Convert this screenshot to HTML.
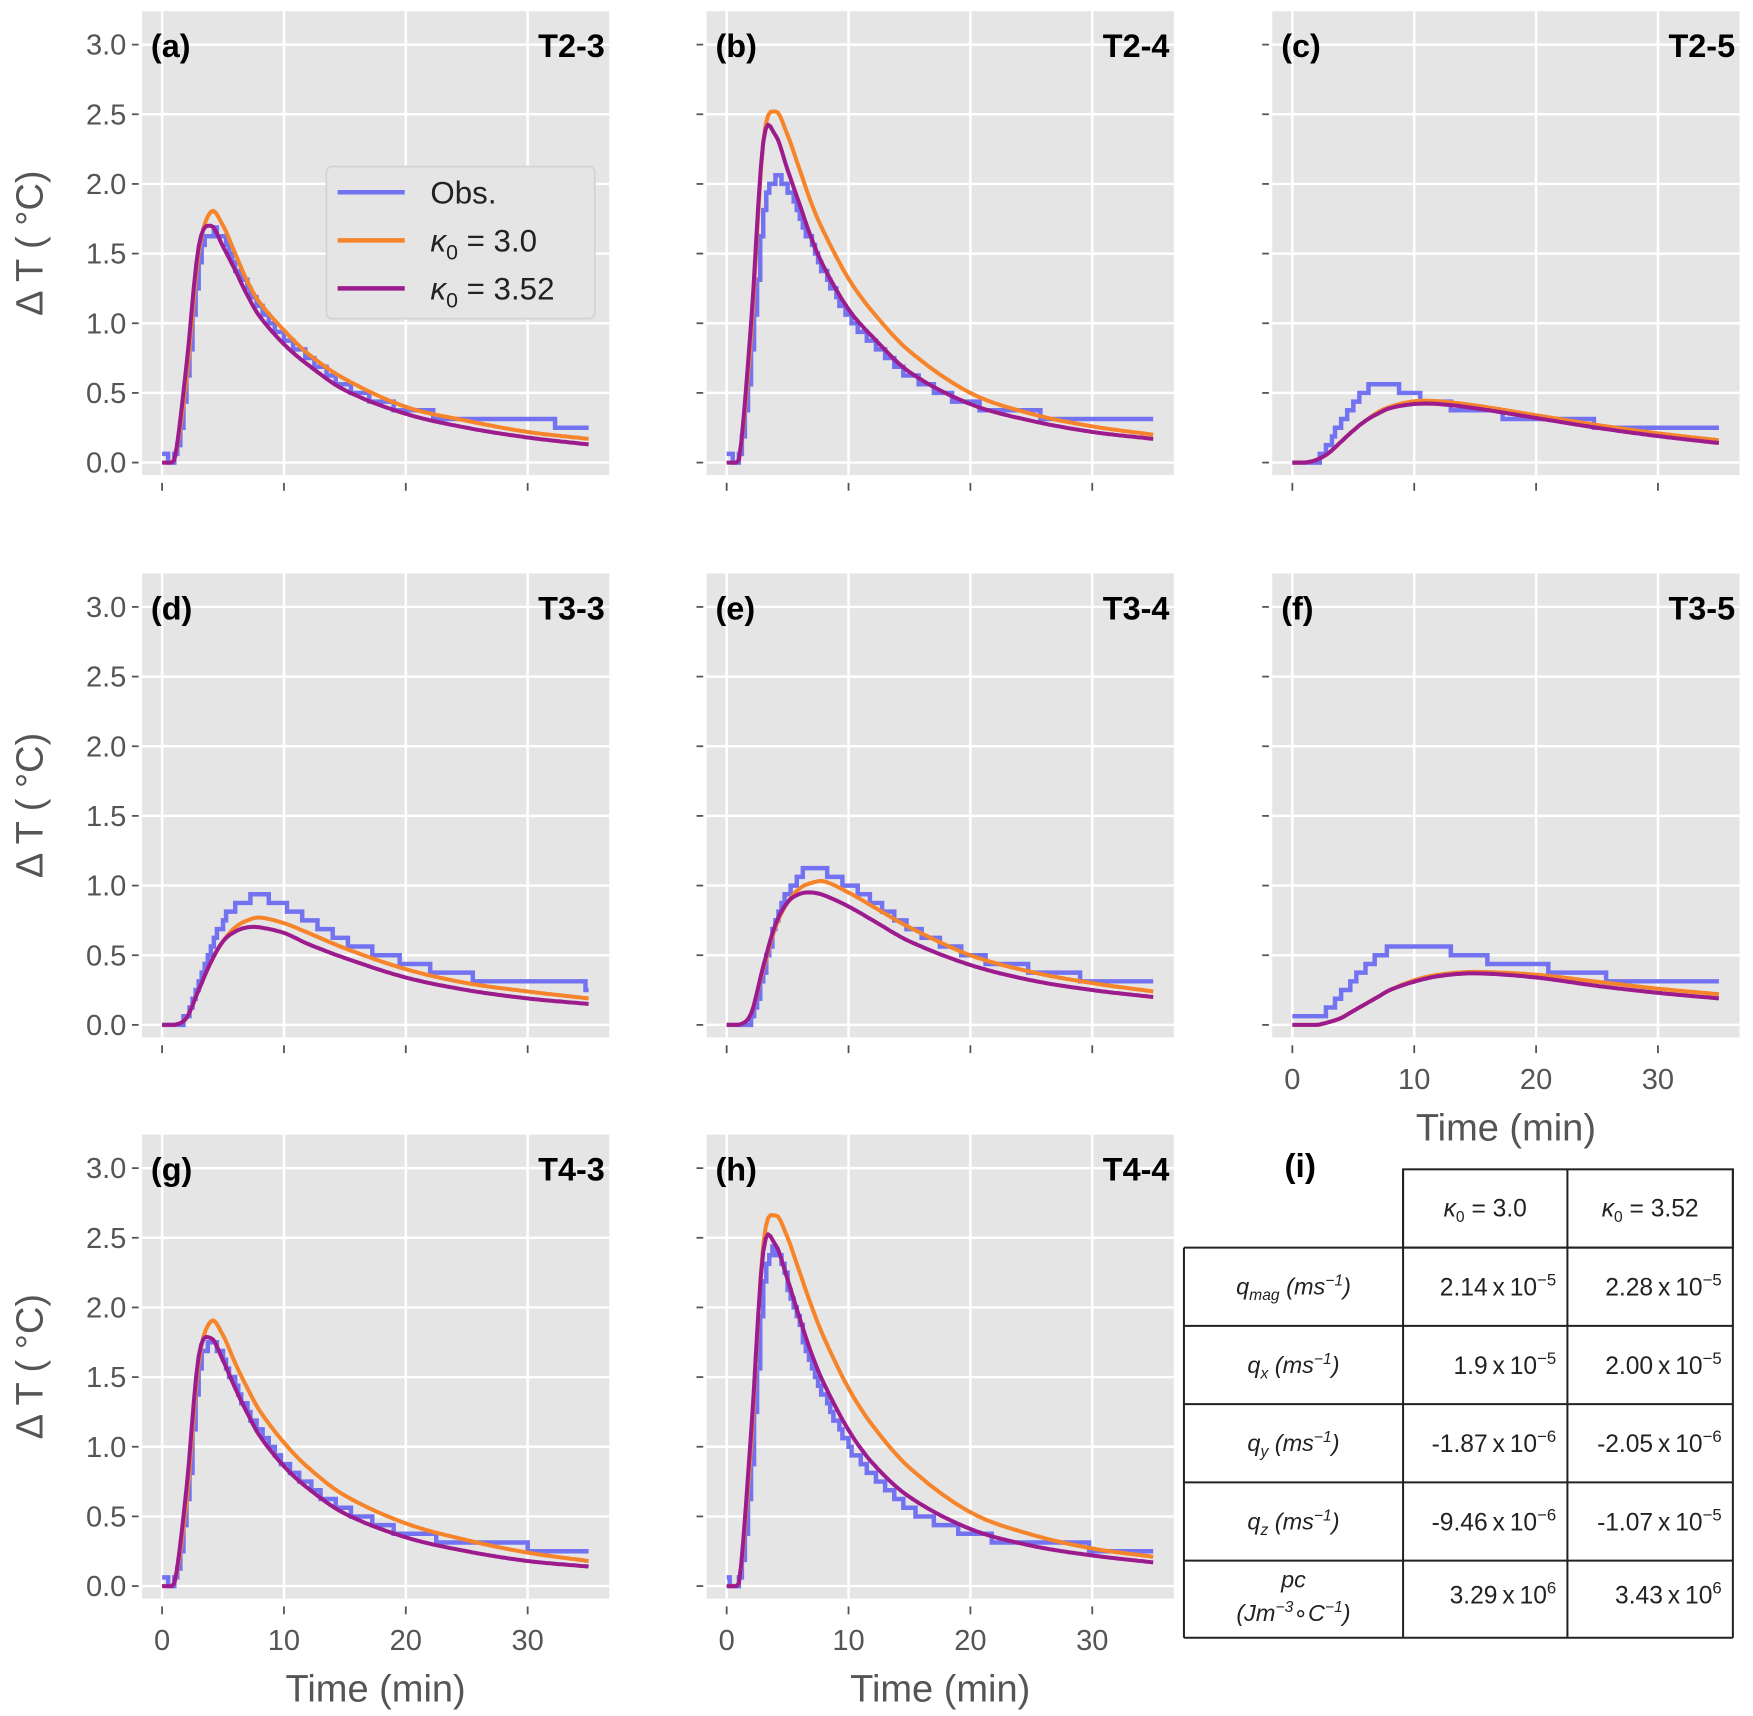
<!DOCTYPE html>
<html><head><meta charset="utf-8"><style>
html,body{margin:0;padding:0;background:#fff;}
svg{display:block;font-family:"Liberation Sans","DejaVu Sans",sans-serif;}
</style></head><body>
<svg id="fig" width="1753" height="1716" viewBox="0 0 1568 1535" preserveAspectRatio="none" xmlns="http://www.w3.org/2000/svg"></svg>
<script>
// ---- data ----
const times = [0,1,2,3,4,5,6,7,8,10,12,15,20,25,30,35];
const panelNames = ["T2-3","T2-4","T2-5","T3-3","T3-4","T3-5","T4-3","T4-4"];
const panelLetters = ["(a)","(b)","(c)","(d)","(e)","(f)","(g)","(h)"];
const orangeA = [0,0.02,0.6,1.5,1.8,1.7,1.5,1.3,1.15,0.95,0.78,0.6,0.4,0.3,0.22,0.17];
const purpleA = [0,0.02,0.7,1.55,1.7,1.55,1.38,1.2,1.05,0.85,0.7,0.52,0.35,0.25,0.18,0.13];
const obsA    = [0.05,0.05,0.6,1.45,1.65,1.6,1.4,1.25,1.1,0.9,0.75,0.55,0.38,0.32,0.3,0.25];
const orangeB = [0,0.02,0.9,2.3,2.52,2.35,2.1,1.85,1.65,1.32,1.08,0.8,0.5,0.35,0.26,0.2];
const purpleB = [0,0.02,1.0,2.3,2.35,2.1,1.85,1.6,1.4,1.1,0.9,0.65,0.42,0.3,0.22,0.17];
const obsB    = [0.05,0.05,0.8,1.8,2.05,1.95,1.75,1.55,1.35,1.05,0.85,0.62,0.42,0.35,0.32,0.3];
const orangeC = [0,0,0.02,0.07,0.15,0.23,0.3,0.36,0.4,0.44,0.44,0.41,0.34,0.27,0.21,0.16];
const purpleC = [0,0,0.02,0.07,0.15,0.23,0.3,0.35,0.39,0.42,0.42,0.39,0.32,0.25,0.19,0.14];
const obsC    = [0,0,0.02,0.15,0.3,0.42,0.52,0.55,0.55,0.48,0.42,0.38,0.3,0.28,0.26,0.25];
const orangeD = [0,0,0.05,0.25,0.45,0.6,0.7,0.75,0.77,0.73,0.66,0.55,0.4,0.3,0.24,0.19];
const purpleD = [0,0,0.05,0.25,0.45,0.6,0.67,0.7,0.7,0.66,0.58,0.48,0.34,0.25,0.19,0.15];
const obsD    = [0,0,0.07,0.3,0.55,0.75,0.85,0.9,0.92,0.85,0.75,0.6,0.45,0.35,0.3,0.28];
const orangeE = [0,0,0.08,0.4,0.7,0.88,0.98,1.02,1.03,0.95,0.85,0.7,0.5,0.38,0.3,0.24];
const purpleE = [0,0,0.08,0.42,0.72,0.88,0.94,0.95,0.93,0.85,0.75,0.6,0.43,0.32,0.25,0.2];
const obsE    = [0,0,0.05,0.4,0.75,0.95,1.08,1.12,1.1,1.0,0.88,0.7,0.5,0.4,0.33,0.3];
const orangeF = [0,0,0,0.02,0.05,0.1,0.15,0.2,0.25,0.32,0.36,0.38,0.36,0.31,0.26,0.22];
const purpleF = [0,0,0,0.02,0.05,0.1,0.15,0.2,0.25,0.31,0.35,0.37,0.34,0.28,0.23,0.19];
const obsF    = [0.05,0.05,0.05,0.12,0.22,0.32,0.42,0.5,0.54,0.55,0.55,0.48,0.42,0.35,0.32,0.3];
const orangeG = [0,0.02,0.6,1.6,1.9,1.8,1.6,1.42,1.26,1.03,0.85,0.65,0.45,0.33,0.24,0.18];
const purpleG = [0,0.02,0.7,1.65,1.78,1.62,1.42,1.24,1.08,0.86,0.7,0.52,0.35,0.25,0.18,0.14];
const obsG    = [0.05,0.05,0.6,1.55,1.75,1.62,1.42,1.25,1.1,0.88,0.72,0.55,0.38,0.32,0.28,0.25];
const orangeH = [0,0.02,1.0,2.45,2.66,2.5,2.25,2.0,1.78,1.42,1.15,0.85,0.53,0.37,0.27,0.21];
const purpleH = [0,0.02,1.1,2.4,2.45,2.2,1.92,1.66,1.45,1.12,0.88,0.64,0.41,0.29,0.22,0.17];
const obsH    = [0.05,0.05,0.9,2.2,2.4,2.15,1.85,1.58,1.35,1.0,0.8,0.55,0.38,0.3,0.28,0.25];
const yTicks = [0,0.5,1,1.5,2,2.5,3];
const yTickLabels = ["0.0","0.5","1.0","1.5","2.0","2.5","3.0"];
const xTicks = [0,10,20,30];
const xTickLabels = ["0","10","20","30"];
const orangeSeries = [orangeA,orangeB,orangeC,orangeD,orangeE,orangeF,orangeG,orangeH];
const purpleSeries = [purpleA,purpleB,purpleC,purpleD,purpleE,purpleF,purpleG,purpleH];
const obsSeries = [obsA,obsB,obsC,obsD,obsE,obsF,obsG,obsH];
const tableCols = ["3.0","3.52"];
const tableRowVals = [["2.14","-5","2.28","-5"],["1.9","-5","2.00","-5"],["-1.87","-6","-2.05","-6"],["-9.46","-6","-1.07","-5"],["3.29","6","3.43","6"]];

// ---- drawing ----
const NS="http://www.w3.org/2000/svg";
const svg=document.getElementById('fig');
function mk(tag,attrs,parent){const e=document.createElementNS(NS,tag);for(const k in attrs)e.setAttribute(k,attrs[k]);(parent||svg).appendChild(e);return e;}
const colX=[127,632,1138], rowY=[10,513,1015], W=418, H=415;
const X0=-1.65, X1=36.7, Y0=-0.09, Y1=3.24;
const ORANGE="#f5842b", PURPLE="#9c1c8e", OBS="#7373f2";

function interp(xs,ys,t){
  let i=0; while(i<xs.length-2 && t>xs[i+1]) i++;
  const p0=ys[Math.max(i-1,0)],p1=ys[i],p2=ys[i+1],p3=ys[Math.min(i+2,ys.length-1)];
  const x1=xs[i],x2=xs[i+1]; const u=(t-x1)/(x2-x1);
  const h0=xs[Math.max(i-1,0)], h3=xs[Math.min(i+2,xs.length-1)];
  const m1=(p2-p0)/((x2-h0)||1)*(x2-x1), m2=(p3-p1)/((h3-x1)||1)*(x2-x1);
  const u2=u*u,u3=u2*u;
  return (2*u3-3*u2+1)*p1+(u3-2*u2+u)*m1+(-2*u3+3*u2)*p2+(u3-u2)*m2;
}

for(let p=0;p<8;p++){
  const c=p%3, r=Math.floor(p/3);
  const L=colX[c], T=rowY[r];
  const sx=v=>L+(v-X0)/(X1-X0)*W;
  const sy=v=>T+H-(v-Y0)/(Y1-Y0)*H;
  const g=mk('g',{});
  
  
  const bg=mk('rect',{x:L,y:T,width:W,height:H,fill:'#e5e5e5'},g);
  
  
  yTicks.forEach((v,i)=>{
    mk('line',{x1:L,x2:L+W,y1:sy(v),y2:sy(v),stroke:'#fff','stroke-width':2.2},g);
    mk('line',{x1:L-9,x2:L-3,y1:sy(v),y2:sy(v),stroke:'#555','stroke-width':1.6},g);
    if(c===0){const t=mk('text',{x:L-14,y:sy(v)+9,'text-anchor':'end','font-size':26,fill:'#555'},g);t.textContent=yTickLabels[i];
      }
  });
  xTicks.forEach((v,i)=>{
    mk('line',{x1:sx(v),x2:sx(v),y1:T,y2:T+H,stroke:'#fff','stroke-width':2.2},g);
    mk('line',{x1:sx(v),x2:sx(v),y1:T+H+7,y2:T+H+14,stroke:'#555','stroke-width':1.6},g);
    if(r===2||p===5){const t=mk('text',{x:sx(v),y:T+H+46,'text-anchor':'middle','font-size':26,fill:'#555'},g);t.textContent=xTickLabels[i];
      }
  });
  if(r===2||p===5){const t=mk('text',{x:L+W/2,y:T+H+92,'text-anchor':'middle','font-size':34,fill:'#555'},g);t.textContent='Time (min)';
    }
  if(c===0){const yc=T+H/2;const t=mk('text',{x:0,y:0,'text-anchor':'middle','font-size':34,fill:'#555',transform:`translate(38,${yc}) rotate(-90)`},g);t.textContent='Δ T ( °C)';
    }
  let d=''; const q=0.0625;
  for(let t=0;t<=35;t+=0.25){
    const v=Math.round(interp(times,obsSeries[p],t)/q)*q;
    d+=(d?'L':'M')+sx(t).toFixed(1)+','+sy(v).toFixed(1);
    if(t<35){d+='L'+sx(t+0.25).toFixed(1)+','+sy(v).toFixed(1);}
  }
  const ob=mk('path',{d:d,fill:'none',stroke:OBS,'stroke-width':4,'stroke-linejoin':'miter'},g);
  
  [[orangeSeries[p],ORANGE,'kappa-3.0-line'],[purpleSeries[p],PURPLE,'kappa-3.52-line']].forEach(([ys,col,nm])=>{
    let dd='';
    for(let t=0;t<=35.001;t+=0.2){dd+=(dd?'L':'M')+sx(t).toFixed(1)+','+sy(Math.max(0,interp(times,ys,t))).toFixed(1);}
    const pl=mk('path',{d:dd,fill:'none',stroke:col,'stroke-width':3.6,'stroke-linejoin':'round'},g);
    
  });
  const lt=mk('text',{x:L+8,y:T+41,'font-size':29,'font-weight':'bold',fill:'#000'},g);lt.textContent=panelLetters[p];
  
  const nt=mk('text',{x:L+W-4,y:T+41,'text-anchor':'end','font-size':29,'font-weight':'bold',fill:'#000'},g);nt.textContent=panelNames[p];
  
}

const lg=mk('g',{});


mk('rect',{x:292,y:149,width:240,height:136,rx:5,fill:'#e5e5e5',stroke:'#d2d2d2','stroke-width':1.5},lg);
[[OBS,'Obs.',null],[ORANGE,'κ','3.0'],[PURPLE,'κ','3.52']].forEach((e,i)=>{
  const y=172+i*43;
  const le=mk('g',{},lg);
  
  
  mk('line',{x1:302,x2:362,y1:y,y2:y,stroke:e[0],'stroke-width':4},le);
  const t=mk('text',{x:385,y:y+10,'font-size':28,fill:'#222'},le);
  if(e[2]===null){t.textContent=e[1];}
  else{const a=mk('tspan',{'font-style':'italic'},t);a.textContent='κ';const b=mk('tspan',{'font-size':19,dy:7},t);b.textContent='0';const c2=mk('tspan',{dy:-7},t);c2.textContent=' = '+e[2];}
});

const tg=mk('g',{});


const tl=mk('text',{x:1163,y:1053,'text-anchor':'middle','font-size':30,'font-weight':'bold',fill:'#000'},tg);tl.textContent='(i)';

const cx=[1059,1255,1402,1550], ry=[1046,1116,1186,1256,1326,1396,1465];
const ls={stroke:'#222','stroke-width':1.8};
mk('rect',Object.assign({x:1255,y:1046,width:295,height:70,fill:'none'},ls),tg);
for(let i=1;i<7;i++) mk('line',Object.assign({x1:cx[0],x2:cx[3],y1:ry[i],y2:ry[i]},ls),tg);
mk('line',Object.assign({x1:cx[0],x2:cx[0],y1:ry[1],y2:ry[6]},ls),tg);
mk('line',Object.assign({x1:cx[1],x2:cx[1],y1:ry[0],y2:ry[6]},ls),tg);
mk('line',Object.assign({x1:cx[2],x2:cx[2],y1:ry[0],y2:ry[6]},ls),tg);
mk('line',Object.assign({x1:cx[3],x2:cx[3],y1:ry[0],y2:ry[6]},ls),tg);
tableCols.forEach((v,i)=>{
  const t=mk('text',{x:(cx[i+1]+cx[i+2])/2,y:1088,'text-anchor':'middle','font-size':22,fill:'#222'},tg);
  
  const a=mk('tspan',{'font-style':'italic'},t);a.textContent='κ';const b=mk('tspan',{'font-size':14,dy:5},t);b.textContent='0';const c2=mk('tspan',{dy:-5},t);c2.textContent=' = '+v;
});
const rowLabels=[['q','mag'],['q','x'],['q','y'],['q','z']];
rowLabels.forEach((rl,i)=>{
  const y=(ry[i+1]+ry[i+2])/2+7;
  const t=mk('text',{x:1157,y:y,'text-anchor':'middle','font-size':21,fill:'#222','font-style':'italic'},tg);
  
  const a=mk('tspan',{},t);a.textContent=rl[0];const b=mk('tspan',{'font-size':14,dy:5},t);b.textContent=rl[1];
  const c2=mk('tspan',{dy:-5},t);c2.textContent=' (ms';const d2=mk('tspan',{'font-size':14,dy:-8},t);d2.textContent='−1';const e2=mk('tspan',{dy:8},t);e2.textContent=')';
});
{const t=mk('text',{x:1157,y:1420,'text-anchor':'middle','font-size':21,fill:'#222','font-style':'italic'},tg);t.textContent='pc';
 
 const t2=mk('text',{x:1157,y:1450,'text-anchor':'middle','font-size':21,fill:'#222','font-style':'italic'},tg);
 
 const a=mk('tspan',{},t2);a.textContent='(Jm';const b=mk('tspan',{'font-size':14,dy:-8},t2);b.textContent='−3';const c2=mk('tspan',{dy:8},t2);c2.textContent='∘C';const d2=mk('tspan',{'font-size':14,dy:-8},t2);d2.textContent='−1';const e2=mk('tspan',{dy:8},t2);e2.textContent=')';}
tableRowVals.forEach((rv,i)=>{
  const y=(ry[i+1]+ry[i+2])/2+(i===4?4:8);
  for(let k=0;k<2;k++){
    const t=mk('text',{x:cx[k+2]-10,y:y,'text-anchor':'end','font-size':22,fill:'#222'},tg);
    
    const a=mk('tspan',{},t);a.textContent=rv[2*k]+'\u2009x\u200910';const b=mk('tspan',{'font-size':15,dy:-9},t);b.textContent=rv[2*k+1].replace('-','−');
  }
});
</script>
</body></html>
